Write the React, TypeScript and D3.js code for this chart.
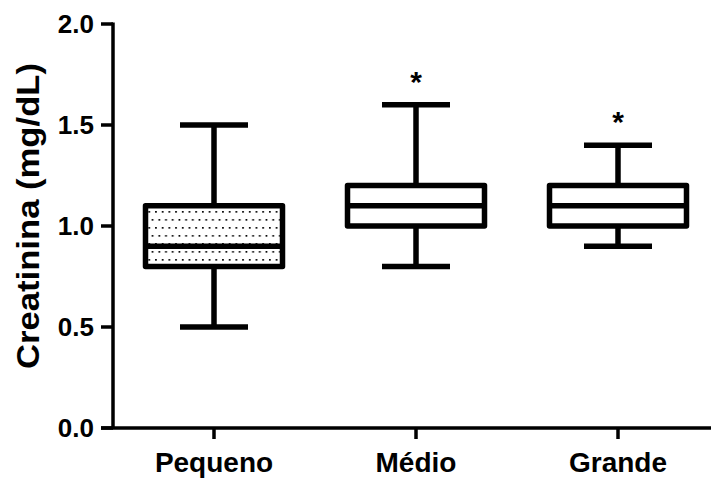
import { useEffect, useRef } from "react";
import * as d3 from "d3";

const groups = ["Pequeno", "Médio", "Grande"];
const mins = [0.5, 0.8, 0.9];
const q1s = [0.8, 1.0, 1.0];
const medians = [0.9, 1.1, 1.1];
const q3s = [1.1, 1.2, 1.2];
const maxs = [1.5, 1.6, 1.4];
const significant = [false, true, true];
const dotted = [true, false, false];
const yTicks = [0.0, 0.5, 1.0, 1.5, 2.0];

const W = 711;
const H = 483;
const FONT = "'Liberation Sans', Arial, sans-serif";

export default function App() {
  const svgRef = useRef<SVGSVGElement>(null);

  useEffect(() => {
    const svg = d3.select(svgRef.current);
    svg.selectAll("*").remove();

    const x = d3.scaleBand().domain(groups).range([113, 719]);
    const y = d3.scaleLinear().domain([0, 2]).range([428, 24]);
    const boxW = 137;
    const capW = 68;

    const defs = svg.append("defs");
    const pat = defs
      .append("pattern")
      .attr("id", "dots")
      .attr("patternUnits", "userSpaceOnUse")
      .attr("width", 6.7)
      .attr("height", 16);
    pat.append("rect").attr("width", 6.7).attr("height", 16).attr("fill", "#fff");
    pat.append("rect").attr("x", 1).attr("y", 3).attr("width", 1.7).attr("height", 1.7).attr("fill", "#000");
    pat.append("rect").attr("x", 4.35).attr("y", 11).attr("width", 1.7).attr("height", 1.7).attr("fill", "#000");

    // axes
    const ax = svg.append("g").attr("stroke", "#000").attr("stroke-width", 3.5);
    ax.append("line").attr("x1", 113).attr("x2", 113).attr("y1", y(2) - 1.5).attr("y2", y(0));
    ax.append("line").attr("x1", 101).attr("x2", 719).attr("y1", y(0)).attr("y2", y(0));
    yTicks.forEach((t) => {
      ax.append("line").attr("x1", 101).attr("x2", 113).attr("y1", y(t)).attr("y2", y(t));
    });
    groups.forEach((g) => {
      const cx = x(g)! + x.bandwidth() / 2;
      ax.append("line").attr("x1", cx).attr("x2", cx).attr("y1", y(0)).attr("y2", y(0) + 11);
    });

    svg
      .append("g")
      .selectAll("text")
      .data(yTicks)
      .enter()
      .append("text")
      .attr("x", 94)
      .attr("y", (d) => y(d))
      .attr("dy", "0.36em")
      .attr("text-anchor", "end")
      .attr("font-family", FONT)
      .attr("font-weight", "bold")
      .attr("font-size", 26)
      .text((d) => d.toFixed(1));

    svg
      .append("g")
      .selectAll("text")
      .data(groups)
      .enter()
      .append("text")
      .attr("x", (d) => x(d)! + x.bandwidth() / 2)
      .attr("y", 472)
      .attr("text-anchor", "middle")
      .attr("font-family", FONT)
      .attr("font-weight", "bold")
      .attr("font-size", 28)
      .text((d) => d);

    svg
      .append("text")
      .attr("transform", `translate(39, 216) rotate(-90)`)
      .attr("text-anchor", "middle")
      .attr("font-family", FONT)
      .attr("font-weight", "bold")
      .attr("font-size", 31)
      .attr("textLength", 306)
      .attr("lengthAdjust", "spacingAndGlyphs")
      .text("Creatinina (mg/dL)");

    // boxes
    groups.forEach((g, i) => {
      const cx = x(g)! + x.bandwidth() / 2;
      const b = svg
        .append("g")
        .attr("stroke", "#000")
        .attr("stroke-width", 5.5)
        .attr("stroke-linejoin", "round");
      b.append("line").attr("x1", cx).attr("x2", cx).attr("y1", y(maxs[i])).attr("y2", y(q3s[i]));
      b.append("line").attr("x1", cx).attr("x2", cx).attr("y1", y(q1s[i])).attr("y2", y(mins[i]));
      b.append("line").attr("x1", cx - capW / 2).attr("x2", cx + capW / 2).attr("y1", y(maxs[i])).attr("y2", y(maxs[i]));
      b.append("line").attr("x1", cx - capW / 2).attr("x2", cx + capW / 2).attr("y1", y(mins[i])).attr("y2", y(mins[i]));
      b.append("rect")
        .attr("x", cx - boxW / 2)
        .attr("width", boxW)
        .attr("y", y(q3s[i]))
        .attr("height", y(q1s[i]) - y(q3s[i]))
        .attr("fill", dotted[i] ? "url(#dots)" : "#fff");
      b.append("line").attr("x1", cx - boxW / 2).attr("x2", cx + boxW / 2).attr("y1", y(medians[i])).attr("y2", y(medians[i]));
      if (significant[i]) {
        svg
          .append("text")
          .attr("x", cx)
          .attr("y", y(maxs[i]) - 13)
          .attr("text-anchor", "middle")
          .attr("font-family", FONT)
          .attr("font-weight", "bold")
          .attr("font-size", 30)
          .text("*");
      }
    });
  }, []);

  return (
    <div style={{ position: "absolute", left: 0, top: 0 }}>
      <svg ref={svgRef} width={W} height={H} style={{ display: "block", background: "#fff" }} />
    </div>
  );
}
